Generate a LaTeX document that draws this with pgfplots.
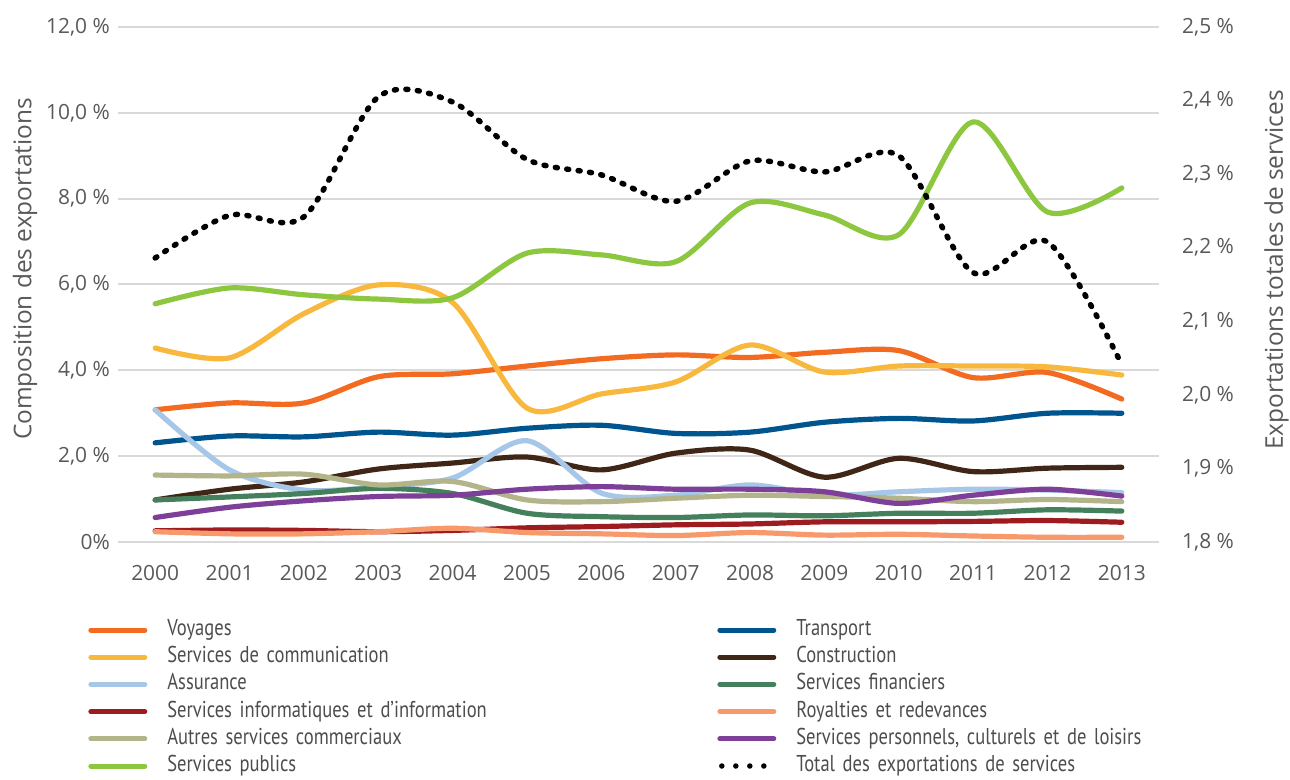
\documentclass[border=0pt]{standalone}
\usepackage{pgfplots}
\pgfplotsset{compat=1.18}
\usepackage{pgfplotstable}
\usepackage{fontspec}
\setmainfont{Open Sans}
\newfontfamily\legfont{PT Sans}[FakeStretch=0.81]
\definecolor{voy}{HTML}{F26B21}
\definecolor{comm}{HTML}{F8B83E}
\definecolor{assur}{HTML}{A6C7E8}
\definecolor{info}{HTML}{9E1B20}
\definecolor{autres}{HTML}{B3B48A}
\definecolor{publics}{HTML}{8DC63F}
\definecolor{transport}{HTML}{00558F}
\definecolor{constr}{HTML}{3F2617}
\definecolor{fin}{HTML}{45805C}
\definecolor{roy}{HTML}{F7996A}
\definecolor{perso}{HTML}{7D3F98}
\definecolor{txt}{HTML}{595959}
\definecolor{legtxt}{HTML}{4D4D4D}
\definecolor{gridc}{HTML}{D9D9D9}

\pgfplotstableread{
year voy transport comm constr assur fin info roy autres perso publics total
2000 3.08 2.31 4.52 0.98 3.08 0.98 0.26 0.24 1.56 0.57 5.55 2.186
2001 3.24 2.47 4.29 1.23 1.68 1.05 0.28 0.19 1.54 0.81 5.92 2.244
2002 3.24 2.45 5.32 1.40 1.21 1.13 0.27 0.19 1.58 0.96 5.76 2.242
2003 3.85 2.56 5.99 1.70 1.29 1.25 0.24 0.24 1.33 1.06 5.66 2.405
2004 3.92 2.49 5.58 1.84 1.49 1.13 0.27 0.32 1.41 1.09 5.69 2.398
2005 4.10 2.65 3.12 1.98 2.36 0.67 0.33 0.22 0.98 1.23 6.73 2.320
2006 4.27 2.72 3.45 1.68 1.14 0.59 0.36 0.19 0.94 1.29 6.69 2.299
2007 4.36 2.53 3.73 2.07 1.09 0.57 0.40 0.15 1.02 1.23 6.53 2.263
2008 4.30 2.56 4.59 2.14 1.33 0.63 0.42 0.22 1.09 1.23 7.90 2.318
2009 4.42 2.79 3.96 1.51 1.09 0.61 0.47 0.16 1.06 1.17 7.62 2.303
2010 4.46 2.88 4.10 1.95 1.17 0.67 0.47 0.18 1.02 0.90 7.16 2.325
2011 3.83 2.82 4.10 1.64 1.23 0.67 0.48 0.14 0.94 1.09 9.79 2.166
2012 3.95 3.00 4.08 1.72 1.21 0.75 0.50 0.11 0.99 1.23 7.69 2.208
2013 3.33 3.00 3.89 1.74 1.15 0.72 0.46 0.11 0.94 1.07 8.25 2.041
}\data

\pgfplotsset{
  base/.style={
    at={(118bp,238bp)}, anchor=south west,
    scale only axis, width=1041bp, height=515bp,
    xmin=1999.5, xmax=2013.5,
    axis line style={draw=none}, major tick length=0pt,
    tick label style={font=\fontsize{21}{25}\selectfont, text=txt, inner sep=0pt},
    label style={font=\fontsize{24.5}{29}\selectfont, text=txt},
  },
  ser/.style={line width=5.2bp, line cap=round, line join=round, smooth, tension=0.5},
  lineleg/.style={legend image code/.code={\draw[##1] (0bp,0bp) -- (54bp,0bp);}},
  totleg/.style={legend image code/.code={\draw[##1, dash pattern=on 0bp off 14bp] (2bp,0bp) -- (46bp,0bp);}},
}

\begin{document}
\begin{tikzpicture}
\path[use as bounding box] (0,0) rectangle (1290bp,780bp);
\begin{axis}[base,
  ymin=0, ymax=12,
  xtick={2000,2001,2002,2003,2004,2005,2006,2007,2008,2009,2010,2011,2012,2013},
  xticklabels={2000,2001,2002,2003,2004,2005,2006,2007,2008,2009,2010,2011,2012,2013},
  xticklabel style={anchor=north, yshift=-23bp},
  ytick={0,2,4,6,8,10,12},
  yticklabels={0\%,{2,0 \%},{4,0 \%},{6,0 \%},{8,0 \%},{10,0 \%},{12,0 \%}},
  yticklabel style={anchor=east, xshift=-8bp},
  ymajorgrids, grid style={gridc, line width=2bp},
  ylabel={Composition des exportations},
  ylabel style={at={(axis description cs:-0.0893,0.53)}, anchor=center},
]
\addplot[ser, voy] table[x=year,y=voy]{\data};
\addplot[ser, transport] table[x=year,y=transport]{\data};
\addplot[ser, comm] table[x=year,y=comm]{\data};
\addplot[ser, constr] table[x=year,y=constr]{\data};
\addplot[ser, assur] table[x=year,y=assur]{\data};
\addplot[ser, fin] table[x=year,y=fin]{\data};
\addplot[ser, info] table[x=year,y=info]{\data};
\addplot[ser, roy] table[x=year,y=roy]{\data};
\addplot[ser, autres] table[x=year,y=autres]{\data};
\addplot[ser, perso] table[x=year,y=perso]{\data};
\addplot[ser, publics] table[x=year,y=publics]{\data};
\end{axis}
\begin{axis}[base,
  ymin=1.8, ymax=2.5,
  hide x axis,
  yticklabel pos=right,
  ytick={1.8,1.9,2.0,2.1,2.2,2.3,2.4,2.5},
  yticklabels={{1,8 \%},{1,9 \%},{2,0 \%},{2,1 \%},{2,2 \%},{2,3 \%},{2,4 \%},{2,5 \%}},
  yticklabel style={anchor=west, xshift=23bp},
  ylabel={Exportations totales de services},
  ylabel style={at={(axis description cs:1.1128,0.528)}, anchor=center, rotate=0},
  legend columns=2,
  legend cell align=left,
  lineleg,
  legend style={
    at={(axis description cs:-0.0285,-0.1505)}, anchor=north west,
    draw=none, fill=none, inner sep=0pt, outer sep=0pt,
    font=\legfont\fontsize{23}{27}\selectfont, text=legtxt,
    row sep=6.2bp,
    nodes={inner sep=0pt, text height=16bp, text depth=5bp, text width=550bp, align=left},
    /tikz/every odd column/.append style={column sep=20bp},
  },
]
\addlegendimage{voy, line width=5bp, line cap=round}
\addlegendentry{Voyages}
\addlegendimage{transport, line width=5bp, line cap=round}
\addlegendentry{Transport}
\addlegendimage{comm, line width=5bp, line cap=round}
\addlegendentry{Services de communication}
\addlegendimage{constr, line width=5bp, line cap=round}
\addlegendentry{Construction}
\addlegendimage{assur, line width=5bp, line cap=round}
\addlegendentry{Assurance}
\addlegendimage{fin, line width=5bp, line cap=round}
\addlegendentry{Services financiers}
\addlegendimage{info, line width=5bp, line cap=round}
\addlegendentry{Services informatiques et d’information}
\addlegendimage{roy, line width=5bp, line cap=round}
\addlegendentry{Royalties et redevances}
\addlegendimage{autres, line width=5bp, line cap=round}
\addlegendentry{Autres services commerciaux}
\addlegendimage{perso, line width=5bp, line cap=round}
\addlegendentry{Services personnels, culturels et de loisirs}
\addlegendimage{publics, line width=5bp, line cap=round}
\addlegendentry{Services publics}
\addplot[black, line width=5.5bp, line cap=round, dash pattern=on 2bp off 9.5bp, smooth, tension=0.5, totleg]
  table[x=year,y=total]{\data};
\addlegendentry{Total des exportations de services}
\end{axis}
\end{tikzpicture}
\end{document}
